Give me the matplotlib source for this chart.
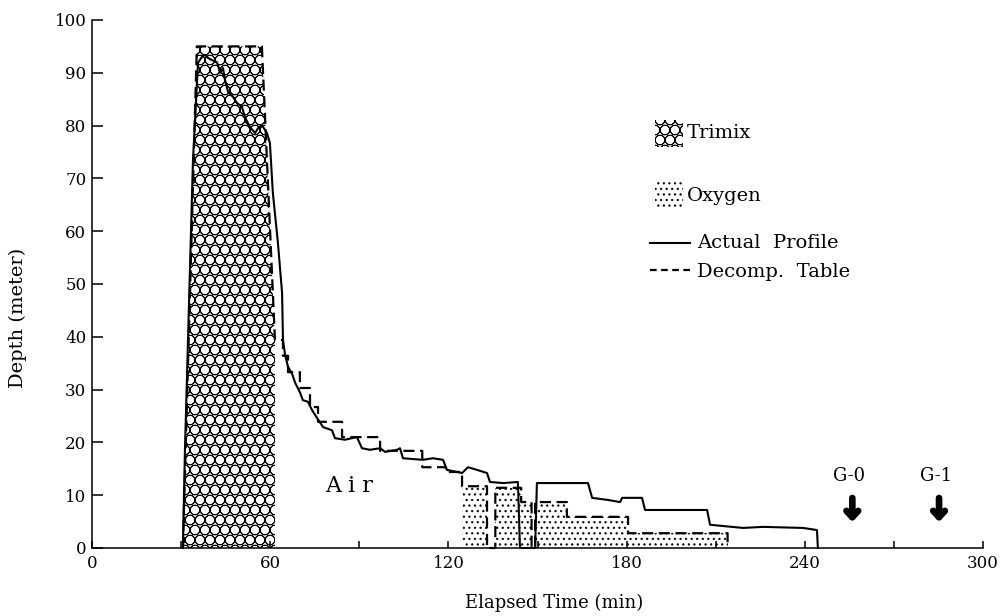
import numpy as np
import matplotlib
matplotlib.use("Agg")
import matplotlib.pyplot as plt
import matplotlib.hatch as mhatch
from matplotlib.patches import Rectangle
from matplotlib.lines import Line2D
from matplotlib.ticker import MultipleLocator

# ---------------- data ----------------
actual_t = [30.6, 31.3, 32.7, 34.0, 35.7, 37.0, 38.0, 39.1, 40.4, 42.1, 43.1, 44.1, 44.8,
            45.8, 47.5, 48.8, 50.5, 51.5, 53.2, 54.9, 55.9, 57.2, 58.9, 59.9, 60.9, 62.6,
            64.0, 64.3, 65.0, 66.0, 67.3, 68.4, 70.0, 71.0, 72.7, 74.1, 75.8, 77.8, 80.8,
            81.8, 85.2, 87.5, 89.2, 90.9, 93.6, 97.0, 98.7, 102.7, 103.7, 104.7, 111.4,
            114.8, 118.2, 119.5, 124.6, 126.6, 129.6, 133.0, 134.0, 138.4, 143.4, 144.1,
            149.2, 149.8, 167.0, 168.4, 173.7, 177.8, 178.5, 185.2, 186.2, 207.1, 208.1,
            219.2, 225.9, 239.4, 244.1, 244.4]
actual_d = [0, 18.6, 47.0, 73.5, 91.9, 93.0, 93.4, 92.8, 92.4, 92.0, 90.0, 90.9, 88.6,
            86.4, 85.4, 84.3, 83.5, 81.6, 79.7, 78.6, 79.5, 80.1, 78.6, 76.7, 67.2, 57.8,
            48.3, 39.4, 36.6, 34.3, 33.1, 31.3, 29.5, 28.0, 27.7, 26.1, 24.6, 22.9, 22.3,
            20.8, 20.5, 20.8, 21.0, 18.9, 18.6, 18.9, 18.2, 18.6, 18.9, 17.0, 16.7,
            17.0, 16.7, 14.8, 14.2, 15.3, 14.8, 14.2, 12.5, 12.3, 12.5, 0,
            0, 12.3, 12.3, 9.5, 9.1, 8.7, 9.5, 9.5, 7.2, 7.2, 4.4,
            3.8, 4.0, 3.8, 3.4, 0]

# decompression table: descent / bottom phase, then stops
table_descent_t = [30.6, 35.3, 57.2]
table_descent_d = [0, 95, 95]
stop_depth = [39.4, 36.4, 33.3, 30.3, 26.7, 23.9, 21.0, 18.4, 15.3, 14.4, 11.7, 0.0,
              11.4, 8.7, 0.0, 8.7, 5.9, 2.8]
stop_start = [61.6, 64.3, 66.0, 70.0, 73.4, 76.1, 84.2, 97.0, 111.2, 119.2, 124.6, 133.0,
              135.8, 144.5, 148.0, 149.2, 159.9, 180.5]
table_end = 214.0

trimix_end = 61.6      # end of trimix breathing (min)
oxygen_start = 124.6   # start of oxygen breathing (min)

yticks = [0, 10, 20, 30, 40, 50, 60, 70, 80, 90, 100]
markers = [("G-0", 256.0), ("G-1", 285.2)]

# ---------------- hatch patterns ----------------
class Honeycomb(mhatch.Circles):
    size = 0.5
    def __init__(self, hatch, density):
        self.num_rows = hatch.count('O') * 10
        super().__init__(hatch, density)

mhatch._hatch_types = [Honeycomb if c is mhatch.LargeCircles else c
                       for c in mhatch._hatch_types]
mhatch.SmallFilledCircles.size = 0.14

plt.rcParams['font.family'] = ['DejaVu Serif']
plt.rcParams['hatch.linewidth'] = 0.5
plt.rcParams['hatch.color'] = 'black'

# build table polyline
table_t = list(table_descent_t)
table_d = list(table_descent_d)
ends = stop_start[1:] + [table_end]
for d, s, e in zip(stop_depth, stop_start, ends):
    table_t += [s, e]
    table_d += [d, d]
table_t.append(table_end)
table_d.append(0.0)
table_t = np.array(table_t)
table_d = np.array(table_d)

W, H = 1002, 616
fig = plt.figure(figsize=(W / 100, H / 100), dpi=100)
ax = fig.add_axes([92 / W, 1 - 548 / H, (983 - 92) / W, (548 - 20) / H])

# trimix region
m_tri = table_t <= trimix_end
ax.fill_between(table_t[m_tri], table_d[m_tri], 0, facecolor='white',
                edgecolor='black', hatch='O', linewidth=0)
# oxygen region
m_oxy = table_t >= oxygen_start
ax.fill_between(table_t[m_oxy], table_d[m_oxy], 0, facecolor='white',
                edgecolor='black', hatch='...', linewidth=0)

ax.plot(table_t, table_d, color='black', lw=1.6, ls=(0, (5, 2.5)), clip_on=False)
ax.plot(actual_t, actual_d, color='black', lw=1.5, clip_on=False)

ax.set_xlim(0, 300)
ax.set_ylim(0, 100)
for s in ['top', 'right']:
    ax.spines[s].set_visible(False)
for s in ['left', 'bottom']:
    ax.spines[s].set_linewidth(1.1)

ax.xaxis.set_major_locator(MultipleLocator(60))
ax.xaxis.set_minor_locator(MultipleLocator(30))
ax.set_yticks(yticks)
ax.tick_params(axis='x', which='both', direction='in', length=5, width=1.1,
               labelsize=12, pad=5)
ax.tick_params(axis='y', direction='in', length=8, width=1.1, labelsize=12, pad=4)

ax.set_xlabel('Elapsed Time (min)', fontsize=13, va='center', ha='center')
ax.xaxis.set_label_coords((554 - 92) / 891, (548 - 603) / 528)
ax.set_ylabel('Depth (meter)', fontsize=14, va='center', ha='center')
ax.yaxis.set_label_coords((18 - 92) / 891, (548 - 318) / 528)

ax.text(86.5, 11.8, 'A i r', fontsize=16, ha='center', va='center')

for lab, t in markers:
    ax.text(t - 1.0, 13.6, lab, fontsize=13, ha='center', va='center')
    ax.annotate('', xy=(t, 4.4), xytext=(t, 10.0),
                arrowprops=dict(arrowstyle='->,head_length=0.45,head_width=0.42',
                                lw=4.8, color='black'))

# legend (figure-pixel placement)
def fx(x):
    return x / W

def fy(y):
    return 1 - y / H

fig.add_artist(Rectangle((fx(655), fy(147)), 28 / W, 27 / H, transform=fig.transFigure,
                         facecolor='white', edgecolor='black', hatch='O', lw=0))
fig.text(fx(687), fy(133), 'Trimix', fontsize=14, va='center', ha='left')
fig.add_artist(Rectangle((fx(655), fy(208)), 28 / W, 27 / H, transform=fig.transFigure,
                         facecolor='white', edgecolor='black', hatch='...', lw=0))
fig.text(fx(687), fy(196), 'Oxygen', fontsize=14, va='center', ha='left')
fig.add_artist(Line2D([fx(650), fx(690)], [fy(243), fy(243)], transform=fig.transFigure,
                      color='black', lw=1.5))
fig.text(fx(697), fy(243), 'Actual  Profile', fontsize=14, va='center', ha='left')
fig.add_artist(Line2D([fx(650), fx(690)], [fy(270), fy(270)], transform=fig.transFigure,
                      color='black', lw=1.6, ls=(0, (3, 2))))
fig.text(fx(697), fy(272), 'Decomp.  Table', fontsize=14, va='center', ha='left')

fig.savefig('out.png', dpi=100)
